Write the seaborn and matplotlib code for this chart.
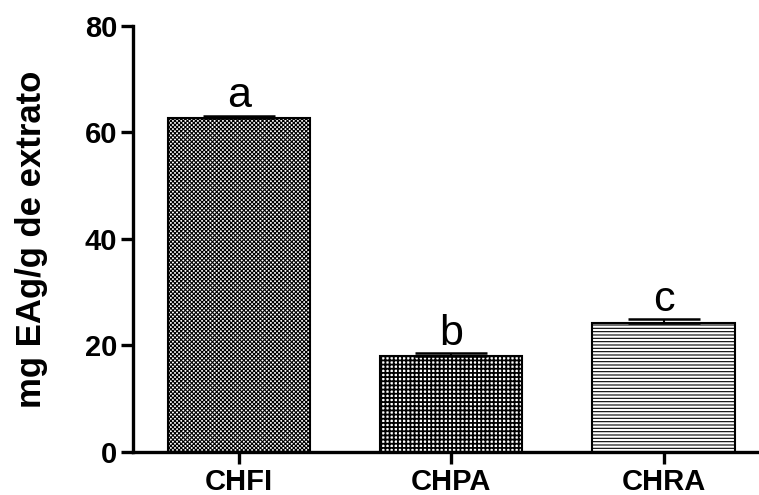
import pandas as pd
import matplotlib.pyplot as plt
import seaborn as sns

# Datos
amostras = ['CHFI', 'CHPA', 'CHRA']
media = [62.7, 18.1, 24.3]
erro = [0.4, 0.4, 0.6]
letras = ['a', 'b', 'c']

df = pd.DataFrame({'Amostra': amostras, 'Valor': media})

sns.set_style('ticks')
plt.rcParams['font.family'] = ['Liberation Sans', 'DejaVu Sans']
plt.rcParams['hatch.linewidth'] = 0.8
for k in ['text.color', 'axes.labelcolor', 'xtick.color', 'ytick.color', 'axes.edgecolor']:
    plt.rcParams[k] = 'black'

fig = plt.figure(figsize=(7.59, 4.95), dpi=100)
ax = fig.add_axes([0.1752, 0.0869, 0.8248, 0.8606])

sns.barplot(x='Amostra', y='Valor', data=df, color='white', width=0.67,
            errorbar=None, edgecolor='black', linewidth=1.5, ax=ax)

hachuras = ['xxxxxxxx', '++++', '-----']
espessura = [0.8, 1.3, 0.8]
for barra, h, lw in zip(ax.patches, hachuras, espessura):
    barra.set_hatch(h)
    barra.set_facecolor('white')
    barra.set_edgecolor('black')
    if hasattr(barra, 'set_hatch_linewidth'):
        barra.set_hatch_linewidth(lw)

# barras de erro (só para cima)
ax.errorbar(range(len(amostras)), media, yerr=[[0] * len(erro), erro],
            fmt='none', ecolor='black', elinewidth=1.5, capsize=26,
            capthick=1.8, zorder=5)

for i, (m, e, l) in enumerate(zip(media, erro, letras)):
    ax.text(i, m + e + 1.6, l, ha='center', va='baseline', fontsize=31)

ax.set_ylim(0, 80)
ax.set_xlim(-0.5, 2.45)
ax.set_yticks([0, 20, 40, 60, 80])
ax.set_xlabel('')
ax.set_ylabel('mg EAg/g de extrato', fontsize=25, fontweight='bold', labelpad=26)
ax.tick_params(axis='both', width=2.4, length=8.5, labelsize=21, direction='out')
ax.tick_params(axis='y', pad=3)
ax.tick_params(axis='x', pad=3)
for lab in ax.get_xticklabels() + ax.get_yticklabels():
    lab.set_fontweight('bold')
for s in ['left', 'bottom']:
    ax.spines[s].set_linewidth(2.4)
sns.despine(ax=ax)

plt.savefig('out.png', dpi=100)
